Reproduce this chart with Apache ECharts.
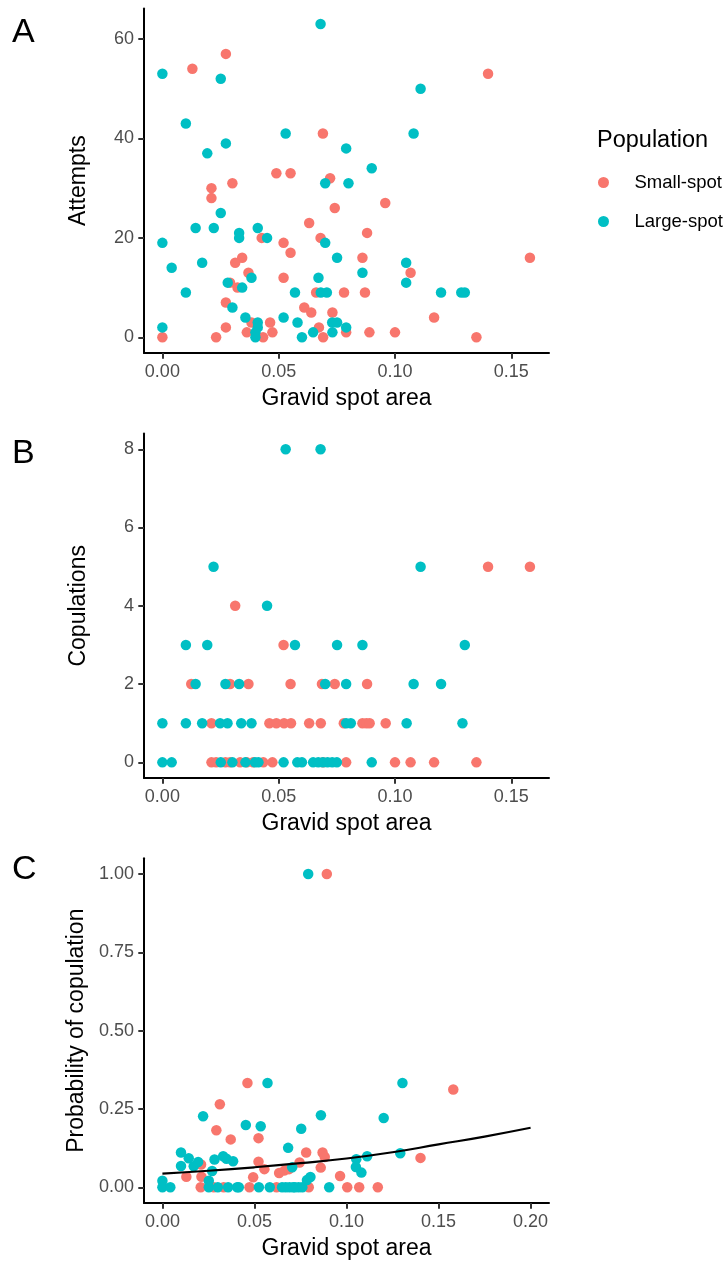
<!DOCTYPE html>
<html>
<head>
<meta charset="utf-8">
<script src="https://cdn.jsdelivr.net/npm/echarts@6/dist/echarts.min.js"></script>
<style>
html,body{margin:0;padding:0;background:#fff;}
#chart{width:728px;height:1262px;}
</style>
</head>
<body>
<div id="chart"></div>
<script>
// ---- Data ----
const seriesNames = ['Small-spot', 'Large-spot'];

// Panel A: Attempts vs gravid spot area
const attemptsSmall = [
  [0.0273,57],[0.0129,54],[0.140,53],[0.069,41],[0.049,33],[0.0551,33],[0.0721,32],[0.0301,31],
  [0.0211,30],[0.0211,28],[0.0958,27],[0.0741,26],[0.0631,23],[0.088,21],[0.0427,20],[0.068,20],
  [0.0521,19],[0.0551,17],[0.086,16],[0.0343,16],[0.158,16],[0.0313,15],[0.037,13],[0.1067,13],
  [0.0521,12],[0.0291,11],[0.0323,10],[0.0661,9],[0.0781,9],[0.0871,9],[0.0273,7],[0.061,6],
  [0.064,5],[0.0731,5],[0.1168,4],[0.0383,3],[0.0463,3],[0.0273,2],[0.0673,2],[0.0363,1],
  [0.0473,1],[0.079,1],[0.089,1],[0.100,1],[0,0],[0.0231,0],[0.0433,0],[0.0691,0],[0.135,0]
];
const attemptsLarge = [
  [0.068,63],[0,53],[0.0251,52],[0.111,50],[0.0101,43],[0.053,41],[0.108,41],[0.0273,39],
  [0.079,38],[0.0193,37],[0.090,34],[0.070,31],[0.080,31],[0.0251,25],[0.0143,22],[0.0221,22],
  [0.041,22],[0.033,21],[0.033,20],[0.045,20],[0,19],[0.070,19],[0.0751,16],[0.0171,15],
  [0.1048,15],[0.004,14],[0.086,13],[0.0383,12],[0.0671,12],[0.0281,11],[0.1048,11],[0.0343,10],
  [0.0101,9],[0.057,9],[0.0681,9],[0.0707,9],[0.1198,9],[0.1285,9],[0.130,9],[0.0301,6],
  [0.0357,4],[0.0521,4],[0.041,3],[0.0581,3],[0.073,3],[0.0751,3],[0,2],[0.079,2],[0.041,2],
  [0.040,1],[0.0648,1],[0.0731,1],[0.040,0],[0.060,0]
];

// Panel B: Copulations vs gravid spot area
const copSmall = [
  [0.140,5],[0.158,5],[0.0313,4],[0.0521,3],
  [0.0124,2],[0.0291,2],[0.037,2],[0.0551,2],[0.0686,2],[0.0741,2],[0.088,2],
  [0.0211,1],[0.046,1],[0.049,1],[0.0523,1],[0.0553,1],[0.0631,1],[0.0681,1],[0.078,1],
  [0.086,1],[0.0877,1],[0.0891,1],[0.096,1],
  [0.0211,0],[0.0231,0],[0.0271,0],[0.0291,0],[0.0334,0],[0.0363,0],[0.039,0],[0.0434,0],
  [0.0473,0],[0.0691,0],[0.079,0],[0.100,0],[0.1067,0],[0.1168,0],[0.135,0]
];
const copLarge = [
  [0.053,8],[0.068,8],[0.022,5],[0.111,5],[0.045,4],
  [0.0101,3],[0.0193,3],[0.057,3],[0.0751,3],[0.086,3],[0.130,3],
  [0.0143,2],[0.0271,2],[0.033,2],[0.070,2],[0.079,2],[0.108,2],[0.1198,2],
  [0,1],[0.0101,1],[0.0171,1],[0.0248,1],[0.028,1],[0.0339,1],[0.0383,1],[0.079,1],[0.081,1],
  [0.105,1],[0.129,1],
  [0,0],[0.004,0],[0.0251,0],[0.0301,0],[0.0357,0],[0.0398,0],[0.0413,0],[0.0521,0],[0.058,0],
  [0.060,0],[0.0648,0],[0.067,0],[0.069,0],[0.071,0],[0.073,0],[0.075,0],[0.090,0]
];

// Panel C: Probability of copulation vs gravid spot area
const probSmall = [
  [0.0893,1.0],[0.0462,0.333],[0.158,0.312],[0.0312,0.265],[0.0293,0.182],[0.0371,0.153],
  [0.0522,0.157],[0.0781,0.111],[0.087,0.111],[0.0882,0.097],[0.1402,0.094],[0.0522,0.082],
  [0.0554,0.058],[0.0745,0.079],[0.0664,0.054],[0.0688,0.058],[0.0634,0.046],[0.086,0.063],
  [0.0965,0.036],[0.0493,0.032],[0.013,0.034],[0.0212,0.034],[0.021,0.073],
  [0.0208,0],[0.0279,0],[0.0333,0],[0.0473,0],[0.062,0],[0.0795,0],[0.1004,0],[0.1069,0],[0.117,0]
];
const probLarge = [
  [0.0792,1.0],[0.0571,0.333],[0.1304,0.333],[0.0221,0.227],[0.0861,0.230],[0.1202,0.221],
  [0.0453,0.199],[0.0534,0.195],[0.0754,0.187],[0.0683,0.126],[0.0101,0.111],[0.1292,0.109],
  [0.1112,0.099],[0.1053,0.090],[0.0143,0.093],[0.017,0.067],[0.0194,0.081],[0.0283,0.089],
  [0.033,0.099],[0.0348,0.091],[0.0384,0.083],[0.0101,0.068],[0.0705,0.064],[0.1051,0.065],
  [0.1081,0.047],[0.0804,0.033],[0.0785,0.023],[0.027,0.052],[0.0252,0.021],[0,0.021],
  [0,0],[0.0043,0],[0.0252,0],[0.0301,0],[0.0357,0],[0.0406,0],[0.0415,0],[0.0524,0],[0.0583,0],
  [0.065,0],[0.067,0],[0.069,0],[0.071,0],[0.072,0],[0.074,0],[0.076,0],[0.0906,0]
];
// fitted curve
const fitCurve = [
  [0,0.044],[0.025,0.053],[0.05,0.064],[0.075,0.077],[0.1,0.092],[0.125,0.112],
  [0.15,0.137],[0.175,0.162],[0.2,0.19]
];

// Tick labels
const xTicksAB = [0, 0.05, 0.10, 0.15];
const xTicksC = [0, 0.05, 0.10, 0.15, 0.20];
const yTicksA = [0, 20, 40, 60];
const yTicksB = [0, 2, 4, 6, 8];
const yTicksC = [0, 0.25, 0.50, 0.75, 1.00];
const panelLabels = ['A', 'B', 'C'];
const yTitles = ['Attempts', 'Copulations', 'Probability of copulation'];
const xTitle = 'Gravid spot area';

// ---- Styling ----
const FONT = 'Liberation Sans, Arial, Helvetica, sans-serif';
const RED = '#F8766D', CYAN = '#00BFC4';
const grids = [
  {left:144, top:8.4, width:405, height:344.6},
  {left:144, top:433.6, width:405, height:344.4},
  {left:144, top:858.3, width:405, height:344.7}
];

function xAxisDef(idx, min, max, ticks) {
  return {
    type:'value', gridIndex: idx, min: min, max: max,
    name: xTitle, nameLocation:'middle', nameGap: 34,
    nameTextStyle:{fontFamily:FONT, fontSize:23, color:'#000'},
    axisLine:{show:true, onZero:false, lineStyle:{color:'#000', width:2}},
    axisTick:{show:true, length:5.7, customValues: ticks, lineStyle:{color:'#333', width:2}},
    axisLabel:{customValues: ticks, margin:10, fontFamily:FONT, fontSize:18, color:'#4D4D4D',
      formatter: v => v.toFixed(2)},
    splitLine:{show:false}
  };
}
function yAxisDef(idx, min, max, ticks, title, dec) {
  return {
    type:'value', gridIndex: idx, min: min, max: max,
    name: title, nameLocation:'middle', nameGap: 54, nameRotate: 90,
    nameTextStyle:{fontFamily:FONT, fontSize:23, color:'#000'},
    axisLine:{show:true, onZero:false, lineStyle:{color:'#000', width:2}},
    axisTick:{show:true, length:5.7, customValues: ticks, lineStyle:{color:'#333', width:2}},
    axisLabel:{customValues: ticks, margin:10, fontFamily:FONT, fontSize:18, color:'#4D4D4D',
      formatter: v => v.toFixed(dec)},
    splitLine:{show:false}
  };
}
function scatter(name, data, idx, color) {
  return {
    type:'scatter', name: name, data: data, xAxisIndex: idx, yAxisIndex: idx,
    symbol:'circle', symbolSize:10.5, itemStyle:{color: color, opacity:1}, silent:true
  };
}

const chart = echarts.init(document.getElementById('chart'), null, {renderer:'canvas'});
const labelY = [33, 453.7, 870];
const option = {
  animation:false,
  backgroundColor:'#fff',
  title:{text:'Population', left:597, top:129, padding:0,
    textStyle:{fontFamily:FONT, fontSize:23.5, fontWeight:'normal', color:'#000'}},
  legend:{
    data: seriesNames, orient:'vertical', left:593, top:168,
    icon:'circle', itemWidth:52, itemHeight:11, itemGap:20,
    textStyle:{fontFamily:FONT, fontSize:18.5, color:'#000', lineHeight:18},
    selectedMode:false
  },
  graphic: panelLabels.map((t, i) => ({
    type:'text', left:12, top: labelY[i] - 17,
    style:{text:t, fontFamily:FONT, fontSize:34, fill:'#000'}
  })),
  grid: grids,
  xAxis:[
    xAxisDef(0, -0.0079, 0.1662, xTicksAB),
    xAxisDef(1, -0.0079, 0.1662, xTicksAB),
    xAxisDef(2, -0.01, 0.21, xTicksC)
  ],
  yAxis:[
    yAxisDef(0, -3.15, 66.15, yTicksA, yTitles[0], 0),
    yAxisDef(1, -0.4, 8.4, yTicksB, yTitles[1], 0),
    yAxisDef(2, -0.05, 1.05, yTicksC, yTitles[2], 2)
  ],
  series:[
    scatter(seriesNames[0], attemptsSmall, 0, RED),
    scatter(seriesNames[1], attemptsLarge, 0, CYAN),
    scatter(seriesNames[0], copSmall, 1, RED),
    scatter(seriesNames[1], copLarge, 1, CYAN),
    scatter(seriesNames[0], probSmall, 2, RED),
    scatter(seriesNames[1], probLarge, 2, CYAN),
    {type:'line', name:'fit', data: fitCurve, xAxisIndex:2, yAxisIndex:2, smooth:true,
     showSymbol:false, symbol:'none', silent:true, lineStyle:{color:'#000', width:2.2}, z:5}
  ]
};
chart.setOption(option);
</script>
</body>
</html>
